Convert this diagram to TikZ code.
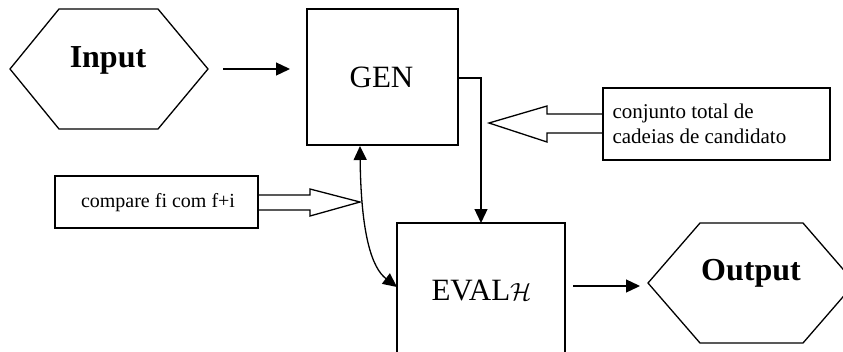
\documentclass[tikz,border=0pt]{standalone}
\usepackage{fontspec}
\setmainfont{Liberation Serif}
\usetikzlibrary{arrows.meta,calc}
\begin{document}
\begin{tikzpicture}[x=1pt,y=-1pt,
  line/.style={line width=1.3pt,line join=miter},
  arr/.style={line width=1.3pt,-{Triangle[length=14pt,width=13pt]}},
  dbl/.style={line width=1.3pt,{Triangle[length=14pt,width=13pt]}-{Triangle[length=14pt,width=13pt]}},
  frame/.style={inner sep=0pt,outer sep=0pt},
  big/.style={font=\fontsize{32}{38}\selectfont\bfseries},
  mid/.style={font=\fontsize{31}{37}\selectfont},
  small/.style={font=\fontsize{21}{25}\selectfont},
  smaller/.style={font=\fontsize{20}{24}\selectfont}]
\useasboundingbox (0,0) rectangle (843,351);

% Input hexagon
\node[frame,minimum width=198pt,minimum height=120pt] (inp) at (109,69) {};
\draw[line] (inp.west) -- ($(inp.north west)+(49,0)$) -- ($(inp.north east)+(-50,0)$)
  -- (inp.east) -- ($(inp.south east)+(-50,0)$) -- ($(inp.south west)+(49,0)$) -- cycle;
\node[big,anchor=base] (inptxt) at (108,67) {Input};

% GEN box
\node[frame,draw,line width=1.3pt,minimum width=151pt,minimum height=136pt] (gen) at (382.5,77) {};
\node[mid,anchor=base] (gentxt) at (381.5,87) {GEN};

% EVAL box
\node[frame,draw,line width=1.3pt,minimum width=168pt,minimum height=150pt] (eval) at (481,298) {};
\node[mid,anchor=base] (evaltxt) at (481.5,300) {EVAL$\mathcal{H}$};

% Output hexagon
\node[frame,minimum width=207pt,minimum height=120pt] (out) at (751.5,283) {};
\draw[line] (out.west) -- ($(out.north west)+(52,0)$) -- ($(out.north east)+(-52,0)$)
  -- (out.east) -- ($(out.south east)+(-52,0)$) -- ($(out.south west)+(52,0)$) -- cycle;
\node[big,anchor=base] (outtxt) at (751,280) {Output};

% conjunto box
\node[frame,draw,line width=1.3pt,minimum width=227pt,minimum height=72pt] (conj) at (716.5,124) {};
\node[small,anchor=base west] (conj1) at (609,118) {conjunto total de};
\node[small,anchor=base west] (conj2) at (609,143) {cadeias de candidato};

% compare box
\node[frame,draw,line width=1.3pt,minimum width=203pt,minimum height=52pt] (cmp) at (156.5,202) {};
\node[smaller,anchor=base] (cmptxt) at (158,207) {compare fi com f+i};

% hollow arrow from compare
\coordinate (cmptip) at (360,202);
\draw[line] ($(cmp.east)+(0,-7)$) -- (310,195) -- (310,189) -- (cmptip) -- (310,216) -- (310,210) -- ($(cmp.east)+(0,8)$);

% hollow arrow from conjunto
\coordinate (conjtip) at (489,123);
\draw[line] ($(conj.west)+(0,-10)$) -- (547,114) -- (547,106) -- (conjtip) -- (547,142) -- (547,133) -- ($(conj.west)+(0,9)$);

% connectors
\coordinate (inpa) at (223,69);
\coordinate (gena) at (290,69);
\draw[arr] (inpa) -- (gena);

\coordinate (genr) at (458,78);
\draw[arr] (genr) -| (eval.north);

\coordinate (genb) at (360,146);
\coordinate (evall) at (397,287);
\draw[dbl] (genb) .. controls (361,235) and (372,268) .. (evall);

\coordinate (evalr) at (573,286);
\coordinate (outl) at (640,286);
\draw[arr] (evalr) -- (outl);
\end{tikzpicture}
\end{document}
